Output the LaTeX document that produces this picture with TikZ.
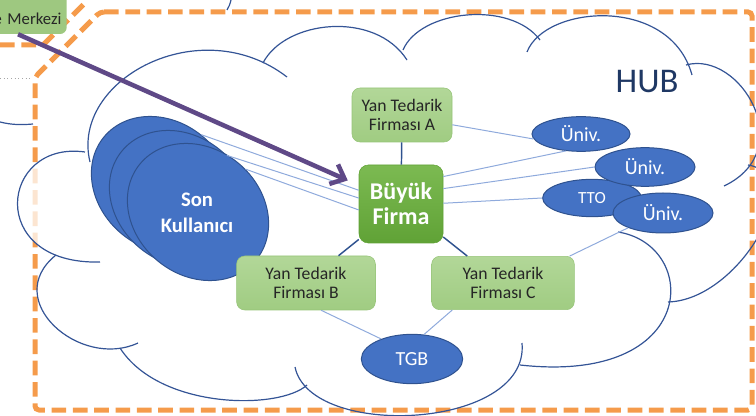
\documentclass[tikz,border=0pt]{standalone}
\usepackage{fontspec}
\setmainfont{Carlito}
\usetikzlibrary{shapes.geometric,arrows.meta}

\definecolor{cloudblue}{RGB}{52,84,150}
\definecolor{frameorange}{RGB}{245,155,75}
\definecolor{arrowpurple}{RGB}{95,73,135}
\definecolor{lightgreentop}{RGB}{178,215,152}
\definecolor{lightgreenbot}{RGB}{160,204,130}
\definecolor{lightgreenedge}{RGB}{150,196,120}
\definecolor{merkezgreen}{RGB}{158,200,128}
\definecolor{firmgreentop}{RGB}{124,186,82}
\definecolor{firmgreenbot}{RGB}{96,162,54}
\definecolor{unifill}{RGB}{68,114,196}
\definecolor{uniedge}{RGB}{47,82,143}
\definecolor{linkblue}{RGB}{143,170,220}
\definecolor{hubnavy}{RGB}{31,56,100}

\begin{document}
\begin{tikzpicture}[x=0.75pt,y=0.75pt,yscale=-1,xscale=1,
    cloudline/.style={color=cloudblue, line width=0.9},
    dashframe/.style={color=frameorange, line width=3.75, dash pattern=on 11pt off 5pt},
    supplier/.style={draw=lightgreenedge, rounded corners=6pt, top color=lightgreentop, bottom color=lightgreenbot, align=center, text=black!85, inner sep=0pt, font=\fontsize{13.25}{14.5}\selectfont},
    firm/.style={draw=firmgreenbot, rounded corners=7pt, top color=firmgreentop, bottom color=firmgreenbot, align=center, text=white, inner sep=0pt, minimum width=63pt, minimum height=58.5pt, font=\bfseries\fontsize{18}{18.75}\selectfont},
    uni/.style={ellipse, draw=uniedge, line width=0.75, fill=unifill, text=white, inner sep=0pt, font=\fontsize{15}{17}\selectfont},
    enduser/.style={ellipse, draw=uniedge, line width=0.75, fill=unifill, minimum width=113pt, minimum height=95pt, rotate=-40},
    darklink/.style={color=uniedge, line width=1.1},
    lightlink/.style={color=linkblue, line width=0.75},
    pointer/.style={color=arrowpurple, line width=3.4, -{Straight Barb[length=9pt,width=16pt]}, shorten >=9pt}]
  \useasboundingbox (0,0) rectangle (756,416);
  \clip (0,0) rectangle (756,416);

  %Straight Lines (frames)
  \draw[dashframe, rounded corners=3pt] (100,12) -- (752,12) -- (752,410) -- (35,410) -- (35,77) -- cycle;
  \draw[dashframe] (0,45) -- (43,45) -- (88,0);

  %Curve Lines (cloud)
  \fill[white, opacity=0.75] (85,152) .. controls (0,140) and (-15,265) .. (100,262) -- cycle;
  \draw[cloudline] (90,162) .. controls (70,80) and (200,10) .. (287,77);
  \draw[cloudline] (263,63) .. controls (285,20) and (375,10) .. (407,60);
  \draw[cloudline] (403,50) .. controls (420,10) and (510,0) .. (540,40);
  \draw[cloudline] (527,52) .. controls (545,5) and (670,-5) .. (692,75);
  \draw[cloudline] (686,65) .. controls (740,50) and (800,150) .. (724,186);
  \draw[cloudline] (748,165) .. controls (810,175) and (740,300) .. (668,302);
  \draw[cloudline] (618,232) .. controls (700,245) and (700,385) .. (520,365);
  \draw[cloudline] (522,343) .. controls (530,430) and (310,440) .. (295,367);
  \draw[cloudline] (307,385) .. controls (280,410) and (160,410) .. (120,348);
  \draw[cloudline] (138,343) .. controls (80,370) and (0,300) .. (56,255);
  \draw[cloudline] (85,152) .. controls (0,140) and (-15,265) .. (100,262);
  %Curve Lines (neighbour pictures)
  \draw[cloudline] (0,122) .. controls (12,125) and (22,125) .. (33,124);
  \draw[cloudline] (231,0) .. controls (230,4) and (229,7) .. (227,10);
  \draw[gray!70, dotted, line width=0.75] (0,79) -- (32,79);

  % Text Node
  \node[anchor=base east, fill=merkezgreen, rounded corners=5pt, inner xsep=4pt, inner ysep=2pt, text width=65pt, align=right, text height=25pt, text depth=4.75pt, text=black!85, font=\fontsize{12.5}{14}\selectfont] (merkez) at (67,25) {e Merkezi};
  \node[font=\fontsize{26}{30}\selectfont, text=hubnavy] (hub) at (647,82) {HUB};

  %Shape: Ellipse
  \node[enduser] (sonA) at (162,185) {};
  \node[enduser] (sonB) at (180,199) {};
  \node[enduser] (sonC) at (198,212) {};
  \node[text=white, align=center, font=\bfseries\fontsize{15.5}{19.5}\selectfont] (son) at (197,213) {Son\\Kullanıcı};

  %Shape: Rectangle
  \node[supplier, minimum width=75pt, minimum height=40.5pt] (firmaA) at (402,115) {Yan Tedarik\\Firması A};
  \node[firm] (buyuk) at (401,204) {Büyük\\Firma};
  \node[supplier, minimum width=104pt, minimum height=40.5pt] (firmaB) at (306,283) {Yan Tedarik\\Firması B};
  \node[supplier, minimum width=107pt, minimum height=40pt] (firmaC) at (503,283) {Yan Tedarik\\Firması C};

  %Shape: Ellipse
  \node[uni, minimum width=76pt, minimum height=37pt] (tgb) at (412,359) {TGB};
  \node[uni, minimum width=73.5pt, minimum height=26pt] (univA) at (581,134) {Üniv.};
  \node[uni, minimum width=74pt, minimum height=28pt, font=\fontsize{12.75}{14}\selectfont] (tto) at (592,198) {TTO};
  \node[uni, minimum width=75pt, minimum height=29pt] (univB) at (645,167) {Üniv.};
  \node[uni, minimum width=75pt, minimum height=30pt] (univC) at (663,213) {Üniv.};

  %Straight Lines
  \draw[darklink] (firmaA) -- (buyuk);
  \draw[darklink] (buyuk.220) -- (firmaB.40);
  \draw[darklink] (buyuk.-38) -- (firmaC.143);
  \draw[lightlink] (firmaA.-11) -- (univA.186);
  \draw[lightlink] (buyuk.33) -- (univA.228);
  \draw[lightlink] (buyuk.20) -- (univB.west);
  \draw[lightlink] (buyuk.1) -- (tto.west);
  \draw[lightlink] (univC.203) -- (firmaC.22);
  \draw[lightlink] (firmaB.-61) -- (tgb.147);
  \draw[lightlink] (firmaC.208) -- (tgb.64);
  \draw[lightlink] (sonA.92) -- (buyuk.162);
  \draw[lightlink] (sonB.83) -- (buyuk.172);
  \draw[lightlink] (sonC.82) -- (buyuk.188);

  %Straight Lines (arrow)
  \draw[pointer] (merkez.south) -- (buyuk);
\end{tikzpicture}
\end{document}
